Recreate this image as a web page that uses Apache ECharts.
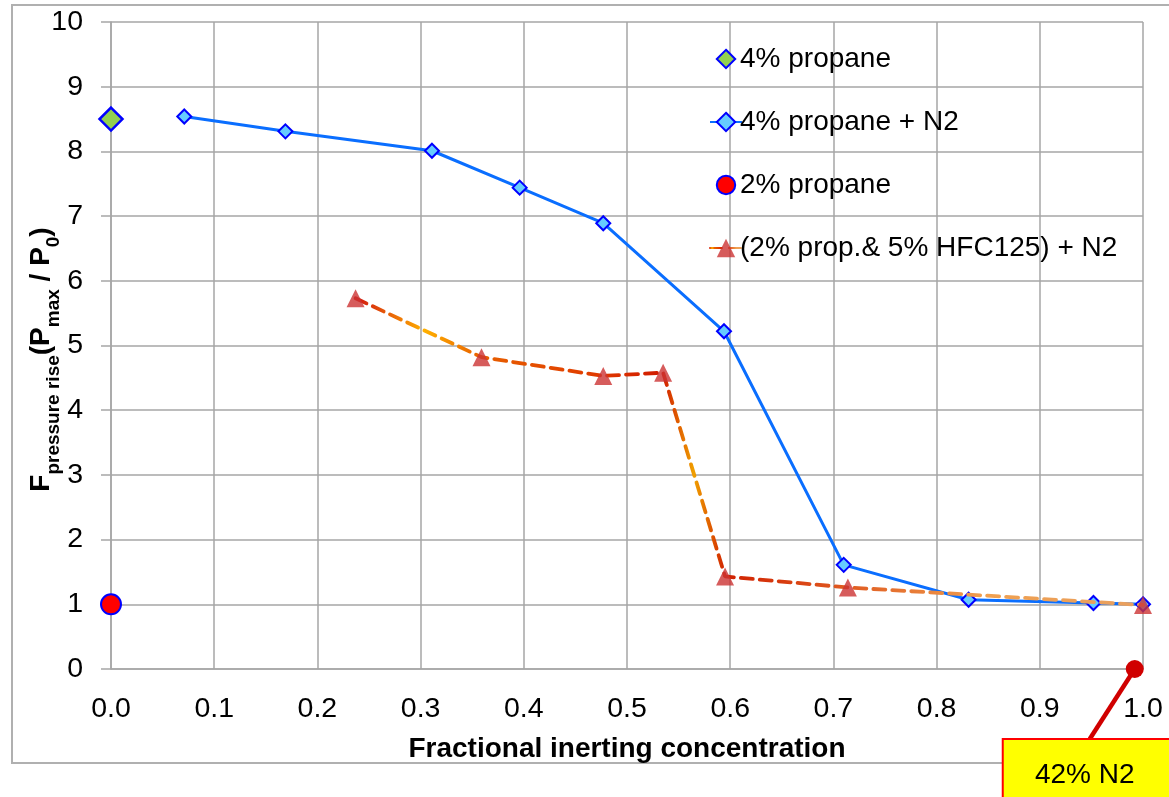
<!DOCTYPE html>
<html>
<head>
<meta charset="utf-8">
<script src="https://cdn.jsdelivr.net/npm/echarts@6/dist/echarts.min.js"></script>
<style>
html,body{margin:0;padding:0;background:#fff;}
#chart{width:1169px;height:797px;}
</style>
</head>
<body>
<div id="chart"></div>
<script>
// ---- data ----
const xTicks = [0.0, 0.1, 0.2, 0.3, 0.4, 0.5, 0.6, 0.7, 0.8, 0.9, 1.0];
const yTicks = [0, 1, 2, 3, 4, 5, 6, 7, 8, 9, 10];

const prop4X = [0.0];
const prop4Y = [8.5];

const prop4N2X = [0.071, 0.169, 0.311, 0.396, 0.477, 0.594, 0.710, 0.831, 0.952, 1.0];
const prop4N2Y = [8.54, 8.31, 8.01, 7.44, 6.89, 5.22, 1.61, 1.07, 1.02, 1.0];

const prop2X = [0.0];
const prop2Y = [1.0];

const hfcX = [0.237, 0.359, 0.477, 0.535, 0.595, 0.714, 1.0];
const hfcY = [5.73, 4.82, 4.53, 4.58, 1.43, 1.26, 0.99];

const annoX = 0.992;
const annoY = 0;
const annoText = '42% N2';

const names = ['4% propane', '4% propane + N2', '2% propane', '(2% prop.& 5% HFC125) + N2'];

function pairs(xs, ys) { return xs.map((x, i) => [x, ys[i]]); }

const FONT = '"Liberation Sans", Arial, sans-serif';
const GRID = '#a6a6a6';

const chart = echarts.init(document.getElementById('chart'), null, {renderer: 'canvas'});

const option = {
  animation: false,
  backgroundColor: '#fff',
  textStyle: {fontFamily: FONT},
  grid: {left: 111, right: 26, top: 22, bottom: 128, containLabel: false, outerBoundsMode: 'none'},
  legend: {
    orient: 'vertical',
    left: 704,
    top: 39,
    itemWidth: 32,
    itemHeight: 23,
    itemGap: 33,
    data: names,
    textStyle: {fontSize: 28, color: '#000', fontFamily: FONT, lineHeight: 30, padding: [0, 0, 0, -7]}
  },
  xAxis: {
    type: 'value',
    min: 0, max: 1, interval: 0.1,
    name: 'Fractional inerting concentration',
    nameLocation: 'middle',
    nameGap: 66,
    nameMoveOverlap: false,
    nameTextStyle: {fontSize: 28, fontWeight: 'bold', color: '#000', fontFamily: FONT},
    axisLine: {show: true, lineStyle: {color: GRID, width: 1.5}},
    axisTick: {show: false},
    axisLabel: {fontSize: 28.5, color: '#000', margin: 26, fontFamily: FONT,
      formatter: v => xTicks.includes(Math.round(v * 10) / 10) ? v.toFixed(1) : ''},
    splitLine: {show: true, lineStyle: {color: GRID, width: 1.5}}
  },
  yAxis: {
    type: 'value',
    min: 0, max: 10, interval: 1,
    name: '{big|F}{sub|pressure rise}{big|(P}{sub|max}{big| / P}{sub|0}{big|)}',
    nameLocation: 'middle',
    nameRotate: 90,
    nameGap: 56,
    nameMoveOverlap: false,
    nameTextStyle: {
      padding: [0, 28, 0, 0],
      rich: {
        big: {fontSize: 28, fontWeight: 'bold', color: '#000', fontFamily: FONT, verticalAlign: 'middle'},
        sub: {fontSize: 19, fontWeight: 'bold', color: '#000', fontFamily: FONT, verticalAlign: 'bottom', padding: [0, 0, -8, 0]}
      }
    },
    axisLine: {show: true, lineStyle: {color: GRID, width: 1.5}},
    axisTick: {show: true, inside: false, length: 10, lineStyle: {color: GRID, width: 1.5}},
    axisLabel: {fontSize: 28.5, color: '#000', margin: 28, fontFamily: FONT,
      formatter: v => yTicks.includes(v) ? String(v) : ''},
    splitLine: {show: true, lineStyle: {color: GRID, width: 1.5}}
  },
  series: [
    {
      name: names[0],
      type: 'line',
      data: pairs(prop4X, prop4Y),
      symbol: 'diamond',
      symbolSize: 23,
      lineStyle: {width: 0, opacity: 0},
      itemStyle: {color: '#92d050', borderColor: '#0000ff', borderWidth: 2.5},
      z: 3
    },
    {
      name: names[1],
      type: 'line',
      data: pairs(prop4N2X, prop4N2Y),
      symbol: 'diamond',
      symbolSize: 14,
      showAllSymbol: true,
      lineStyle: {color: '#0a6eff', width: 3},
      itemStyle: {color: '#66ccff', borderColor: '#0000ff', borderWidth: 2},
      z: 3
    },
    {
      name: names[2],
      type: 'line',
      data: pairs(prop2X, prop2Y),
      symbol: 'circle',
      symbolSize: 20,
      lineStyle: {width: 0, opacity: 0},
      itemStyle: {color: '#ff0000', borderColor: '#0000ff', borderWidth: 2},
      z: 3
    },
    {
      name: names[3],
      type: 'line',
      data: pairs(hfcX, hfcY),
      symbol: 'triangle',
      symbolSize: 18,
      showAllSymbol: true,
      lineStyle: {
        type: [12, 7],
        width: 3.8,
        cap: 'round',
        color: {
          type: 'linear', x: 0, y: 0, x2: 1, y2: 0,
          colorStops: [
            {offset: 0.00, color: '#d01010'},
            {offset: 0.09, color: '#ffb000'},
            {offset: 0.16, color: '#e86000'},
            {offset: 0.31, color: '#e03a00'},
            {offset: 0.39, color: '#d01a00'},
            {offset: 0.43, color: '#f0a000'},
            {offset: 0.47, color: '#d02000'},
            {offset: 0.62, color: '#e05a20'},
            {offset: 0.80, color: '#f0a050'},
            {offset: 1.00, color: '#e8a060'}
          ]
        }
      },
      itemStyle: {color: '#cc3333', opacity: 0.8},
      z: 4
    }
  ]
};

chart.setOption(option);

function drawAnno() {
  const p = chart.convertToPixel({gridIndex: 0}, [annoX, annoY]);
  const bx = p[0] - 45, by = p[1] + 70;
  chart.setOption({
    graphic: [
      {type: 'rect', silent: true, z: 0,
        shape: {x: 12, y: 5, width: 1200, height: 758},
        style: {fill: 'none', stroke: '#b0b0b0', lineWidth: 2}},
      {type: 'line', z: 100,
        shape: {x1: p[0], y1: p[1], x2: bx, y2: by},
        style: {stroke: '#d00000', lineWidth: 4.5}},
      {type: 'circle', z: 101,
        shape: {cx: p[0], cy: p[1], r: 9},
        style: {fill: '#d00000'}},
      {type: 'rect', z: 102,
        shape: {x: bx - 87, y: by, width: 260, height: 120},
        style: {fill: '#ffff00', stroke: '#ff0000', lineWidth: 2}},
      {type: 'text', z: 103,
        x: bx - 5, y: by + 36,
        style: {text: annoText, fontSize: 28, fill: '#000', fontFamily: FONT,
          align: 'center', verticalAlign: 'middle'}}
    ]
  });
}
drawAnno();
</script>
</body>
</html>
